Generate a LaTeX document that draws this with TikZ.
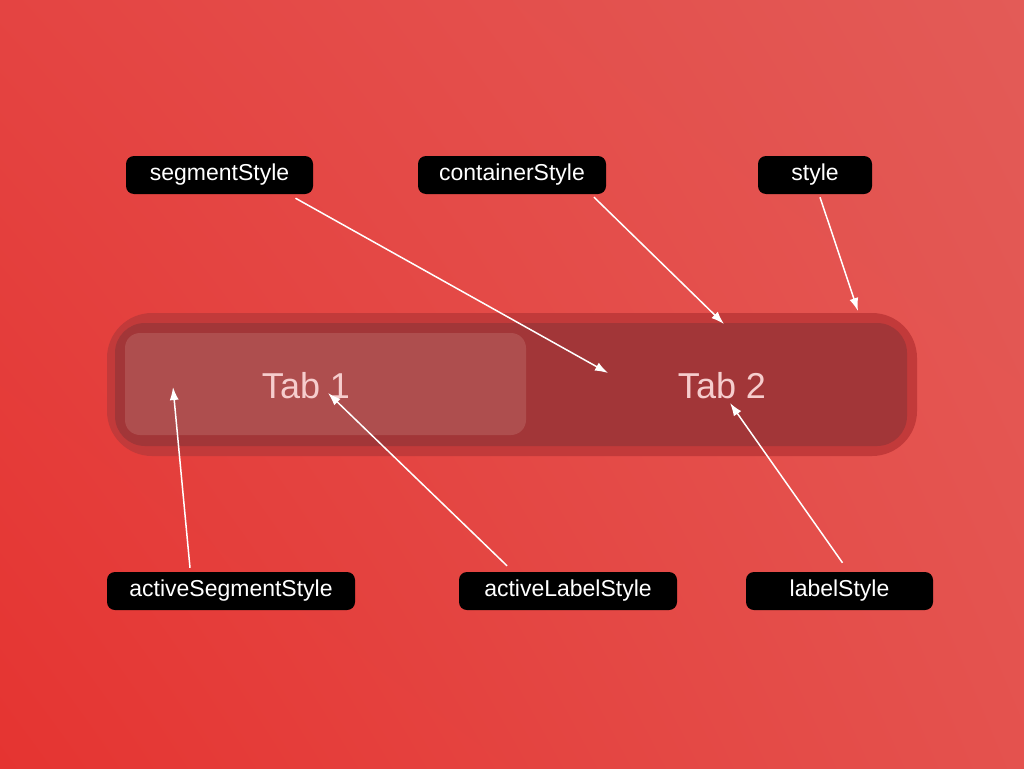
\documentclass[tikz,border=0pt]{standalone}
\usepackage{fontspec}
\setmainfont{Liberation Sans}
\usepackage{xcolor}
\usetikzlibrary{shadings,arrows.meta}
\definecolor{bglow}{RGB}{229,52,49}
\definecolor{bghigh}{RGB}{227,91,87}
\definecolor{bgleft}{RGB}{228,68,66}
\definecolor{bgright}{RGB}{228,82,78}
\definecolor{outerbar}{RGB}{194,58,58}
\definecolor{innerbar}{RGB}{162,54,56}
\definecolor{activetab}{RGB}{174,78,78}
\definecolor{tabtext}{RGB}{246,205,205}
\tikzstyle{tag}=[fill=black, text=white, rounded corners=8pt, minimum height=38pt, inner sep=0pt, font=\fontsize{23}{26}\selectfont]
\tikzstyle{pointer}=[-{Latex[length=13pt,width=9pt]}, line width=1.5pt, white]

\begin{document}
\begin{tikzpicture}[x=1pt,y=-1pt]
  \shade[lower left=bglow, upper right=bghigh, upper left=bgleft, lower right=bgright] (0,768) rectangle (1024,0);
  \useasboundingbox (0,0) rectangle (1024,768);

  %% The bar
  \draw (512,384.5) node[fill=outerbar, rounded corners=45pt, minimum width=810pt, minimum height=143pt, inner sep=0pt] (outer) {};
  \draw (511,384.5) node[fill=innerbar, rounded corners=30pt, minimum width=792pt, minimum height=123pt, inner sep=0pt] (inner) {};
  \draw (325.5,384) node[fill=activetab, rounded corners=15pt, minimum width=401pt, minimum height=102pt, inner sep=0pt] (active) {};
  \draw (306,386) node[text=tabtext, font=\fontsize{36}{40}\selectfont] (tab1) {Tab 1};
  \draw (722,386) node[text=tabtext, font=\fontsize{36}{40}\selectfont] (tab2) {Tab 2};

  %% Targets
  \coordinate (segT) at (608,373);
  \coordinate (contT) at (724,324);
  \coordinate (styT) at (858,311);
  \coordinate (asegT) at (173,387);
  \coordinate (alabT) at (328,393);
  \coordinate (labT) at (730,403);

  %% Labels
  \draw (219.5,175) node[tag, minimum width=187pt] (seg) {segmentStyle};
  \draw (512,175) node[tag, minimum width=188pt] (cont) {containerStyle};
  \draw (815,175) node[tag, minimum width=114pt] (sty) {style};
  \draw (231,591) node[tag, minimum width=248pt] (aseg) {activeSegmentStyle};
  \draw (568,591) node[tag, minimum width=218pt] (alab) {activeLabelStyle};
  \draw (839.5,591) node[tag, minimum width=187pt] (lab) {labelStyle};

  \draw[pointer] ([xshift=76pt,yshift=-4pt]seg.south) -- (segT);
  \draw[pointer] ([xshift=82pt,yshift=-3pt]cont.south) -- (contT);
  \draw[pointer] ([xshift=5pt,yshift=-3pt]sty.south) -- (styT);
  \draw[pointer] ([xshift=-41pt,yshift=4pt]aseg.north) -- (asegT);
  \draw[pointer] ([xshift=-61pt,yshift=6pt]alab.north) -- (alabT);
  \draw[pointer] ([xshift=3pt,yshift=9pt]lab.north) -- (labT);
\end{tikzpicture}
\end{document}
